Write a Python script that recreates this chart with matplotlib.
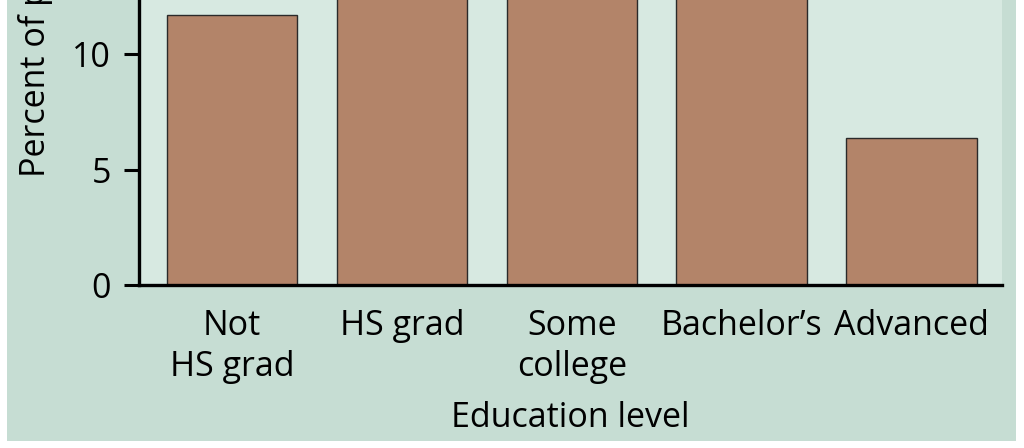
import numpy as np
import matplotlib.pyplot as plt
from matplotlib.patches import Rectangle

# Data (bars 2-4 run off the top of the cropped figure)
categories = ['Not\nHS grad', 'HS grad', 'Some\ncollege', "Bachelor\u2019s", 'Advanced']
percents = [11.7, 29.9, 28.3, 21.6, 6.35]
yticks = [0, 5, 10]

panelColor = '#c6ddd3'
plotColor = '#d7e9e1'
barColor = '#b38469'
fs = 24.5

plt.rcParams['font.family'] = ['Open Sans', 'DejaVu Sans']

W, H = 1024, 448
fig = plt.figure(figsize=(W / 100.0, H / 100.0), dpi=100, facecolor='white')

# Outer tinted panel
panel = Rectangle((7.0 / W, 1 - 441.0 / H), (1016.0 - 7.0) / W, 441.0 / H,
	transform=fig.transFigure, facecolor=panelColor, edgecolor='none', zorder=-10)
fig.add_artist(panel)

axL = 139.0 / W
axR = 1002.0 / W
axB = 1 - 285.0 / H
ax = fig.add_axes([axL, axB, axR - axL, 1 - axB])
ax.set_zorder(1)
ax.set_facecolor(plotColor)

x = np.arange(len(categories))
ax.bar(x, percents, width=0.77, color=barColor, edgecolor='#2a2a2a', linewidth=1.0, zorder=2)

ax.set_xlim(-0.547, 4.53)
ax.set_ylim(0, 12.34)

for s in ['top', 'right']:
	ax.spines[s].set_visible(False)
for s in ['left', 'bottom']:
	ax.spines[s].set_linewidth(2.4)
	ax.spines[s].set_color('black')
	ax.spines[s].set_zorder(3)

ax.set_yticks(yticks)
ax.tick_params(axis='y', length=11, width=2.2, pad=9, labelsize=fs)
ax.set_xticks(x)
ax.set_xticklabels(categories, linespacing=1.26)
ax.tick_params(axis='x', length=0, pad=17.5, labelsize=fs)

ax.set_xlabel('Education level', fontsize=fs, labelpad=12)
ax.set_ylabel('Percent of people', fontsize=fs, loc='bottom')
ax.yaxis.set_label_coords(45.0 / W, 1 - 177.0 / H, transform=fig.transFigure)
ax.yaxis.label.set_va('baseline')

plt.savefig('out.png', dpi=100, facecolor='white')
